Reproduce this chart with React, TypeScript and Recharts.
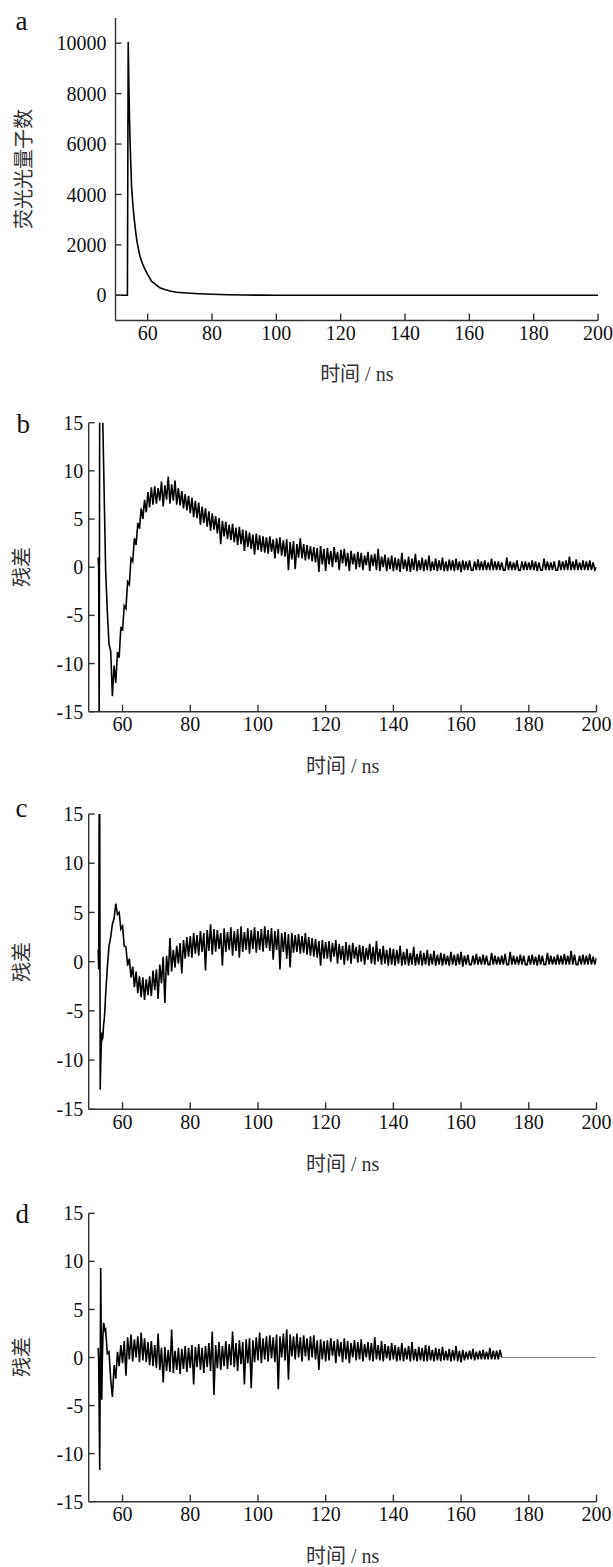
import React from 'react';
import { LineChart, Line, XAxis, YAxis } from 'recharts';

// ---------- panel a : fluorescence decay ----------
const decayTime = [50, 53.7, 53.95, 54.2, 54.5, 55, 55.4, 55.8, 56.2, 56.6,
  57.1, 57.6, 58.4, 59.2, 60.2, 61.2, 62.5, 63.8, 65.3, 66.9,
  69, 72, 76, 80, 85, 90, 95, 100, 120, 150, 200];
const decayCounts = [0, 0, 10050, 8000, 6200, 4300, 3600, 3050, 2600, 2200,
  1850, 1550, 1250, 1020, 780, 560, 420, 300, 230, 170,
  120, 90, 60, 40, 22, 10, 5, 3, 2, 1, 0];

// ---------- panels b, c, d : residuals ----------
const residTime = [
  52.8, 52.95, 53.1, 53.25, 53.4, 53.55, 53.7, 53.85, 54.0, 54.2, 54.4, 54.6, 54.8,
  55, 55.5, 56, 56.5, 57, 57.5, 58, 58.5, 59, 59.5,
  60, 60.5, 61, 61.5, 62, 62.5, 63, 63.5, 64, 64.5,
  65, 65.5, 66, 66.5, 67, 67.5, 68, 68.5, 69, 69.5,
  70, 70.5, 71, 71.5, 72, 72.5, 73, 73.5, 74, 74.5,
  75, 75.5, 76, 76.5, 77, 77.5, 78, 78.5, 79, 79.5,
  80, 80.5, 81, 81.5, 82, 82.5, 83, 83.5, 84, 84.5,
  85, 85.5, 86, 86.5, 87, 87.5, 88, 88.5, 89, 89.5,
  90, 90.5, 91, 91.5, 92, 92.5, 93, 93.5, 94, 94.5,
  95, 95.5, 96, 96.5, 97, 97.5, 98, 98.5, 99, 99.5,
  100, 100.5, 101, 101.5, 102, 102.5, 103, 103.5, 104, 104.5,
  105, 105.5, 106, 106.5, 107, 107.5, 108, 108.5, 109, 109.5,
  110, 110.5, 111, 111.5, 112, 112.5, 113, 113.5, 114, 114.5,
  115, 115.5, 116, 116.5, 117, 117.5, 118, 118.5, 119, 119.5,
  120,
  120.5, 121, 121.5, 122, 122.5, 123, 123.5, 124, 124.5, 125, 125.5, 126, 126.5, 127, 127.5, 128, 128.5, 129, 129.5, 130,
  130.5, 131, 131.5, 132, 132.5, 133, 133.5, 134, 134.5, 135, 135.5, 136, 136.5, 137, 137.5, 138, 138.5, 139, 139.5, 140,
  140.5, 141, 141.5, 142, 142.5, 143, 143.5, 144, 144.5, 145, 145.5, 146, 146.5, 147, 147.5, 148, 148.5, 149, 149.5, 150,
  150.5, 151, 151.5, 152, 152.5, 153, 153.5, 154, 154.5, 155, 155.5, 156, 156.5, 157, 157.5, 158, 158.5, 159, 159.5, 160,
  160.5, 161, 161.5, 162, 162.5, 163, 163.5, 164, 164.5, 165, 165.5, 166, 166.5, 167, 167.5, 168, 168.5, 169, 169.5, 170,
  170.5, 171, 171.5, 172, 172.5, 173, 173.5, 174, 174.5, 175, 175.5, 176, 176.5, 177, 177.5, 178, 178.5, 179, 179.5, 180,
  180.5, 181, 181.5, 182, 182.5, 183, 183.5, 184, 184.5, 185, 185.5, 186, 186.5, 187, 187.5, 188, 188.5, 189, 189.5, 190,
  190.5, 191, 191.5, 192, 192.5, 193, 193.5, 194, 194.5, 195, 195.5, 196, 196.5, 197, 197.5, 198, 198.5, 199, 199.5, 200,
];

const residB = [
  1.0, -0.4, -18, 18, 18, 18, 18, 18, 18, 14.5, 10.8, 7.1, 3.4,
  -0.3, -4.6, -8.0, -8.7, -13.4, -10.2, -12.0, -8.8, -9.4, -6.2,
  -6.6, -4.0, -4.3, -1.5, -1.8, 0.9, 0.6, 3.0, 2.3, 4.6,
  4.0, 6.1, 5.0, 7.0, 5.7, 7.8, 6.2, 8.3, 6.5, 8.4,
  6.6, 8.2, 6.9, 8.9, 6.3, 8.5, 7.0, 9.4, 6.6, 8.6,
  6.9, 9.0, 6.5, 8.2, 6.4, 7.9, 6.1, 7.6, 5.9, 7.4,
  5.6, 7.2, 5.2, 6.9, 5.1, 6.7, 4.4, 6.3, 4.6, 6.1,
  4.2, 5.8, 3.8, 5.6, 3.9, 5.3, 3.5, 5.1, 2.4, 4.8,
  3.2, 4.7, 2.9, 4.4, 2.8, 4.5, 2.6, 4.1, 2.3, 4.2,
  2.4, 3.9, 1.7, 3.8, 2.1, 3.6, 1.9, 3.4, 1.3, 3.5,
  1.8, 3.3, 1.6, 3.2, 1.5, 3.1, 1.4, 3.2, 1.6, 2.9,
  0.9, 3.0, 1.4, 3.1, 1.2, 2.8, 1.1, 2.9, -0.3, 2.6,
  0.8, 2.7, -0.2, 2.4, 1.0, 3.0, 0.9, 2.4, 0.7, 2.3,
  0.8, 2.2, 0.6, 2.1, 0.5, 2.0, -0.5, 2.2, 0.3, 1.9,
  -0.4,
  2.0, 0.3, 1.7, 0.0, 2.1, 0.5, 1.6, -0.3, 1.8, 0.4, 1.9, 0.1, 1.5, -0.4, 1.7, 0.3, 1.4, -0.2, 1.6, 0.0,
  1.5, -0.3, 1.2, 0.2, 1.6, -0.4, 1.3, 0.1, 1.4, -0.3, 1.9, -0.4, 1.1, 0.0, 1.3, -0.4, 1.0, -0.2, 1.2, -0.4,
  1.0, -0.3, 0.9, -0.5, 1.5, -0.2, 0.8, -0.4, 1.1, -0.5, 0.9, -0.3, 1.4, -0.4, 0.7, -0.3, 1.0, -0.4, 0.8, -0.3,
  1.2, -0.4, 0.6, -0.3, 0.9, -0.4, 0.7, -0.3, 1.0, -0.4, 0.6, -0.4, 0.8, -0.3, 0.7, -0.4, 0.9, -0.3, 0.6, -0.5,
  0.7, -0.3, 0.6, -0.3, 0.7, -0.3, -0.3, 0.6, -0.3, 0.8, -0.3, 0.6, -0.3, 0.7, -0.3, 0.5, -0.3, 0.9, -0.3, 0.6,
  -0.3, 0.6, -0.3, 0.5, -0.3, -0.3, 1.0, -0.3, 0.6, -0.3, 0.5, -0.3, 0.7, -0.3, -0.3, 0.6, -0.3, 0.6, -0.3, 0.5,
  -0.3, 0.7, -0.3, 0.6, -0.4, 0.5, -0.3, -0.3, 0.9, -0.3, 0.6, -0.3, 0.5, -0.3, 0.6, -0.3, -0.3, 0.7, -0.3, 0.6,
  -0.3, 0.7, -0.3, 1.1, -0.3, 0.6, -0.3, 0.8, -0.3, 0.5, -0.3, 0.7, -0.3, 0.6, -0.3, 0.7, -0.3, 0.5, -0.3, 0.0,
];

const residC = [
  1.2, -0.8, 17, 17, -13.0, -10.5, -8.8, -7.2, -8.0, -7.6, -6.4, -5.9, -4.8,
  -3.4, -0.6, 1.6, 2.5, 3.8, 4.4, 5.9, 4.8, 5.0, 3.3,
  3.6, 1.6, 1.5, -0.4, 0.3, -1.6, -0.5, -2.6, -1.0, -3.2,
  -1.5, -3.6, -1.6, -3.9, -1.8, -3.4, -1.5, -3.5, -0.9, -2.9,
  -0.8, -3.8, -0.3, -2.2, 0.5, -4.2, 0.6, -1.4, 2.4, -1.0,
  1.2, -0.6, 1.6, -0.2, 1.9, -1.2, 2.2, 0.3, 2.5, 0.5,
  2.6, 0.4, 2.9, 0.8, 2.7, 0.6, 3.1, 1.0, 2.9, -0.9,
  3.2, 1.1, 3.8, 0.7, 3.3, 1.0, 3.2, 1.3, 2.9, -0.4,
  3.4, 1.0, 3.0, 1.2, 3.5, 0.6, 3.1, 1.1, 3.3, 0.4,
  3.6, 1.0, 3.0, 1.2, 3.4, 0.8, 3.2, 1.3, 3.5, 0.9,
  3.1, 1.2, 3.3, 1.0, 3.6, 1.4, 3.2, 1.1, 3.4, 0.2,
  3.1, 1.2, 3.3, -0.8, 2.9, 1.0, 3.0, 0.3, 2.8, -0.6,
  2.9, 0.9, 2.7, 1.0, 2.8, 0.8, 2.6, 0.9, 2.9, 0.7,
  2.5, 0.6, 2.4, 0.5, 2.3, 0.4, 2.1, -0.4, 2.2, 0.3,
  2.0,
  0.3, 2.1, 0.0, 1.9, 0.5, 2.2, -0.2, 1.8, 0.2, 1.6, -0.3, 2.0, 0.1, 1.7, -0.2, 1.9, 0.3, 1.5, -0.1, 1.7,
  0.0, 1.6, -0.3, 1.4, 0.2, 1.8, -0.2, 1.5, -0.3, 2.1, 0.0, 1.3, -0.3, 1.6, -0.2, 1.2, -0.4, 1.4, -0.3, 1.3,
  -0.4, 1.2, -0.2, 1.6, -0.4, 1.0, -0.3, 1.3, -0.4, 0.9, -0.3, 1.5, -0.4, 0.8, -0.3, 1.1, -0.4, 0.9, -0.3, 1.2,
  -0.4, 0.8, -0.3, 1.1, -0.4, 0.7, -0.3, 0.9, -0.4, 0.8, -0.3, 0.6, -0.4, 1.0, -0.3, 0.7, -0.4, 0.8, -0.3, 1.0,
  -0.5, 0.6, -0.3, 0.7, -0.3, -0.3, 0.6, -0.3, 0.8, -0.3, 0.5, -0.3, 0.7, -0.3, 0.6, -0.3, -0.3, 0.9, -0.3, 0.6,
  -0.3, 0.5, -0.3, 0.6, -0.3, 0.8, -0.3, -0.3, 1.0, -0.3, 0.6, -0.3, 0.5, -0.3, 0.7, -0.3, 0.6, -0.3, -0.3, 0.6,
  -0.3, 0.7, -0.3, 0.5, -0.4, 0.7, -0.3, 0.6, -0.3, -0.3, 0.9, -0.3, 0.6, -0.3, 0.5, -0.3, 0.7, -0.3, 0.6, -0.3,
  0.8, -0.3, 0.6, -0.3, 1.1, -0.3, 0.7, -0.3, -0.3, 0.6, -0.3, 0.7, -0.3, 0.6, -0.3, 0.8, -0.3, 0.5, -0.3, 0.4,
];

// panel d: residuals recorded up to 172 ns, flat zero afterwards
const residD = [
  1.0, -0.3, -6.0, -11.7, -1.2, 9.3, 2.4, -4.4, -0.8, 2.2, 3.6, 3.3, 2.8,
  2.9, 0.4, 0.6, -2.3, -4.1, -0.8, -2.2, 0.6, -0.9, 1.3,
  -0.6, 1.7, -1.9, 2.1, -0.2, 2.4, -0.4, 1.9, 0.0, 2.2,
  -0.5, 2.6, -0.3, 2.0, -0.5, 1.6, -0.8, 1.7, -0.9, 1.3,
  -1.1, 2.5, -1.3, 1.0, -2.6, 1.1, -1.4, 0.8, -1.5, 2.9,
  -1.6, 0.7, -1.3, 1.0, -1.7, 0.9, -1.2, 1.2, -1.5, 1.0,
  -1.1, 1.3, -2.8, 1.1, -1.0, 1.4, -1.3, 1.0, -1.6, 1.2,
  -1.0, 1.5, -1.4, 2.7, -3.9, 1.3, -1.1, 1.6, -1.3, 1.2,
  -0.9, 1.7, -1.2, 1.4, -0.8, 2.7, -1.0, 1.5, -1.4, 1.8,
  -0.7, 1.6, -2.8, 1.9, -0.6, 2.0, -3.2, 1.8, -0.5, 2.1,
  -0.3, 2.6, -0.6, 2.0, -0.2, 2.2, -0.4, 2.3, -0.1, 2.1,
  -0.5, 2.4, -3.3, 2.2, 0.0, 2.5, -0.3, 2.9, -2.3, 2.4,
  0.1, 2.2, -0.2, 2.5, 0.0, 2.1, -0.4, 2.3, 0.1, 2.0,
  -0.3, 2.2, 0.0, 2.3, -0.2, 1.8, -1.3, 1.9, -0.2, 1.7,
  -0.4,
  1.8, -0.3, 2.0, 0.2, 1.7, -0.6, 1.9, 0.1, 1.6, -0.5, 2.0, -0.2, 1.7, -0.6, 1.5, 0.0, 1.8, -0.3, 1.6, -0.2,
  1.9, -0.4, 1.4, 0.0, 1.6, -0.3, 1.5, -0.4, 2.1, -0.2, 1.3, -0.3, 1.7, -0.4, 1.4, -0.1, 1.2, -0.3, 1.5, -0.2,
  1.3, -0.4, 1.1, -0.3, 1.5, -0.4, 1.0, -0.2, 1.2, -0.4, 1.6, -0.3, 0.9, -0.4, 1.1, -0.3, 1.0, -0.4, 1.3, -0.4,
  1.2, -0.3, 0.8, -0.4, 1.0, -0.3, 0.9, -0.4, 1.1, -0.3, 0.7, -0.3, 0.9, -0.4, 0.8, -0.3, 1.2, -0.4, 0.7, -0.5,
  0.8, -0.3, 0.6, -0.2, 0.7, -0.2, 0.9, -0.3, 0.6, -0.2, 0.7, -0.2, 0.8, -0.2, 0.6, -0.2, 1.0, -0.2, 0.7, -0.2,
  0.7, -0.2, 0.8, 0.0,
];
const flatTime = [172, 200];
const flatD = [0, 0];

const xTicks = [60, 80, 100, 120, 140, 160, 180, 200];
const yTicksA = [0, 2000, 4000, 6000, 8000, 10000];
const yTicksRes = [-15, -10, -5, 0, 5, 10, 15];

const FONT = '"Liberation Serif", "Times New Roman", "Noto Sans CJK SC", serif';
const AXIS = '#333';
const TICK = { fill: '#111', fontSize: 20, fontFamily: FONT };

const zip = (ts: number[], vs: number[]) =>
  ts.slice(0, vs.length).map((t, i) => ({ t, v: vs[i] }));

const dataA = zip(decayTime, decayCounts);
const dataB = zip(residTime, residB);
const dataC = zip(residTime, residC);
const dataD = zip(residTime, residD);
const dataDFlat = zip(flatTime, flatD);

type PanelProps = {
  top: number;
  height: number;
  yWidth: number;
  mTop: number;
  mBottom: number;
  mRight: number;
  yDomain: [number, number];
  yTicks: number[];
  yGap: number;
  children: React.ReactNode;
  data: { t: number; v: number }[];
};

function Panel(p: PanelProps) {
  return (
    <div style={{ position: 'absolute', left: 0, top: p.top }}>
      <LineChart
        width={613}
        height={p.height}
        data={p.data}
        margin={{ top: p.mTop, right: p.mRight, bottom: p.mBottom, left: 0 }}
      >
        <XAxis
          dataKey="t"
          type="number"
          domain={[50, 200]}
          ticks={xTicks}
          interval={0}
          allowDataOverflow
          height={30}
          tickSize={-7}
          tickMargin={12}
          axisLine={{ stroke: AXIS, strokeWidth: 1.4 }}
          tickLine={{ stroke: AXIS, strokeWidth: 1.4 }}
          tick={TICK}
        />
        <YAxis
          type="number"
          domain={p.yDomain}
          ticks={p.yTicks}
          interval={0}
          allowDataOverflow
          width={p.yWidth}
          tickSize={-6}
          tickMargin={6 + p.yGap}
          axisLine={{ stroke: AXIS, strokeWidth: 1.4 }}
          tickLine={{ stroke: AXIS, strokeWidth: 1.4 }}
          tick={TICK}
        />
        {p.children}
      </LineChart>
    </div>
  );
}

export default function App() {
  const titleStyle = { fontFamily: FONT, fontSize: 20, fill: '#333' } as const;
  const letterStyle = { fontFamily: FONT, fontSize: 27, fill: '#111' } as const;
  const res = { stroke: '#000', strokeWidth: 1.6, strokeLinejoin: 'miter' as const, dot: false, type: 'linear' as const, isAnimationActive: false };
  return (
    <div style={{ position: 'absolute', left: 0, top: 0, width: 613, height: 1567, background: '#fff', overflow: 'hidden' }}>
      <Panel top={0} height={395} yWidth={115.5} mTop={18} mBottom={44.5} mRight={15}
        yDomain={[-1000, 11000]} yTicks={yTicksA} yGap={9} data={dataA}>
        <Line dataKey="v" stroke="#000" strokeWidth={1.6} dot={false} type="linear" isAnimationActive={false} />
      </Panel>
      <Panel top={400} height={390} yWidth={88.7} mTop={22.7} mBottom={48.3} mRight={16.5}
        yDomain={[-15, 15]} yTicks={yTicksRes} yGap={5.5} data={dataB}>
        <Line dataKey="v" {...res} />
      </Panel>
      <Panel top={790} height={400} yWidth={88.7} mTop={24} mBottom={50.7} mRight={16.5}
        yDomain={[-15, 15]} yTicks={yTicksRes} yGap={5.5} data={dataC}>
        <Line dataKey="v" {...res} />
      </Panel>
      <Panel top={1190} height={377} yWidth={88.7} mTop={23.3} mBottom={35.3} mRight={16.5}
        yDomain={[-15, 15]} yTicks={yTicksRes} yGap={5.5} data={dataD}>
        <Line dataKey="v" {...res} />
        <Line data={dataDFlat} dataKey="v" stroke="#8a8a8a" strokeWidth={1.2} dot={false} type="linear" isAnimationActive={false} />
      </Panel>
      <svg width={613} height={1567} style={{ position: 'absolute', left: 0, top: 0, pointerEvents: 'none' }}>
        <text x={15.5} y={30} style={letterStyle}>a</text>
        <text x={16.5} y={433} style={letterStyle}>b</text>
        <text x={15.5} y={817} style={letterStyle}>c</text>
        <text x={15.5} y={1223} style={letterStyle}>d</text>

        <text x={356.8} y={374} textAnchor="middle" dominantBaseline="central" style={titleStyle}>时间 / ns</text>
        <text x={342.6} y={766} textAnchor="middle" dominantBaseline="central" style={titleStyle}>时间 / ns</text>
        <text x={342.6} y={1164} textAnchor="middle" dominantBaseline="central" style={titleStyle}>时间 / ns</text>
        <text x={342.6} y={1556} textAnchor="middle" dominantBaseline="central" style={titleStyle}>时间 / ns</text>

        <text x={24} y={169} textAnchor="middle" dominantBaseline="central" transform="rotate(-90 24 169)" style={titleStyle}>荧光光量子数</text>
        <text x={22} y={567} textAnchor="middle" dominantBaseline="central" transform="rotate(-90 22 567)" style={titleStyle}>残差</text>
        <text x={22} y={962} textAnchor="middle" dominantBaseline="central" transform="rotate(-90 22 962)" style={titleStyle}>残差</text>
        <text x={22} y={1357} textAnchor="middle" dominantBaseline="central" transform="rotate(-90 22 1357)" style={titleStyle}>残差</text>
      </svg>
    </div>
  );
}
